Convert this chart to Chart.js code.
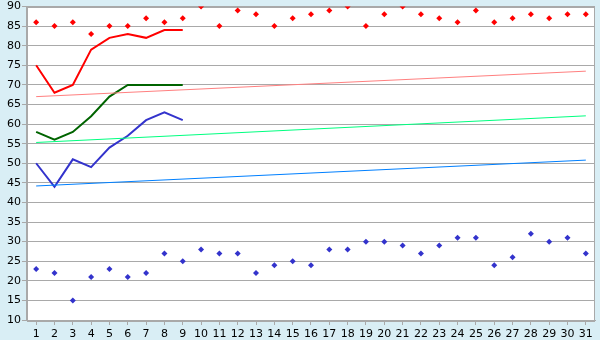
<!DOCTYPE html>
<html>
<head>
<meta charset="utf-8">
<script src="https://cdn.jsdelivr.net/npm/chart.js@4/dist/chart.umd.min.js"></script>
<style>
  html, body { margin: 0; padding: 0; background: #d9eef5; }
  canvas { display: block; }
</style>
</head>
<body>
<canvas id="grafico" width="600" height="340"></canvas>
<script>
// ==========================
// DADOS
// ==========================
const dias = Array.from({ length: 31 }, (_, i) => String(i + 1));

const pontosVermelhos = [86, 85, 86, 83, 85, 85, 87, 86, 87, 90, 85, 89, 88, 85, 87, 88,
                         89, 90, 85, 88, 90, 88, 87, 86, 89, 86, 87, 88, 87, 88, 88];
const pontosAzuis     = [23, 22, 15, 21, 23, 21, 22, 27, 25, 28, 27, 27, 22, 24, 25, 24,
                         28, 28, 30, 30, 29, 27, 29, 31, 31, 24, 26, 32, 30, 31, 27];

const linhaVermelha = [75, 68, 70, 79, 82, 83, 82, 84, 84];
const linhaVerde    = [58, 56, 58, 62, 67, 70, 70, 70, 70];
const linhaAzul     = [50, 44, 51, 49, 54, 57, 61, 63, 61];

// tendências: valor no dia 1 e no dia 31
const tendVermelha = [67.0, 73.5];
const tendVerde    = [55.3, 62.1];
const tendAzul     = [44.2, 50.8];

const yTicks = { min: 10, max: 90, step: 5 };

// ==========================
// AUXILIARES
// ==========================
function tendencia(vals) {
  return [{ x: dias[0], y: vals[0] }, { x: dias[dias.length - 1], y: vals[1] }];
}

function serieLinha(dados, cor) {
  return { type: 'line', data: dados, borderColor: cor, borderWidth: 2,
           pointRadius: 0, tension: 0, fill: false };
}

function serieTend(vals, cor) {
  return { type: 'line', data: tendencia(vals), borderColor: cor, borderWidth: 1,
           pointRadius: 0, tension: 0, fill: false };
}

function seriePontos(dados, cor) {
  return { type: 'line', data: dados, showLine: false, pointStyle: 'rectRot',
           pointRadius: 3, pointBorderWidth: 0, pointBackgroundColor: cor,
           borderColor: cor, backgroundColor: cor };
}

// fundo azul + área branca com moldura
const fundo = {
  id: 'fundo',
  beforeDraw(chart) {
    const { ctx, chartArea: a } = chart;
    ctx.save();
    ctx.fillStyle = '#d9eef5';
    ctx.fillRect(0, 0, chart.width, chart.height);
    ctx.fillStyle = '#ffffff';
    ctx.fillRect(a.left, a.top, a.right - a.left, a.bottom - a.top);
    ctx.restore();
  },
  beforeDatasetsDraw(chart) {
    const { ctx, chartArea: a } = chart;
    ctx.save();
    ctx.strokeStyle = '#a9a9a9';
    ctx.lineWidth = 1;
    ctx.strokeRect(Math.round(a.left) + 0.5, Math.round(a.top) + 0.5,
                   Math.round(a.right - a.left) - 1, Math.round(a.bottom - a.top));
    ctx.restore();
  }
};

const fonte = { family: 'DejaVu Sans', size: 11, lineHeight: 1 };

// ==========================
// GRÁFICO
// ==========================
new Chart(document.getElementById('grafico'), {
  type: 'line',
  data: {
    labels: dias,
    datasets: [
      serieTend(tendVermelha, '#ff8080'),
      serieTend(tendVerde, '#00ff80'),
      serieTend(tendAzul, '#0080ff'),
      serieLinha(linhaVermelha, '#ff0000'),
      serieLinha(linhaVerde, '#006400'),
      serieLinha(linhaAzul, '#3333cc'),
      seriePontos(pontosVermelhos, '#ff0000'),
      seriePontos(pontosAzuis, '#3333cc')
    ]
  },
  options: {
    responsive: false,
    animation: false,
    layout: { padding: { top: 0, right: 5, left: 6, bottom: 0 } },
    plugins: { legend: { display: false }, tooltip: { enabled: false } },
    scales: {
      x: {
        offset: true,
        afterFit(scale) { scale.height = 20; },
        border: { color: '#a9a9a9' },
        grid: { drawOnChartArea: false, drawTicks: true, tickLength: 5, color: '#a9a9a9' },
        ticks: { color: '#000', font: fonte, padding: 4, maxRotation: 0, autoSkip: false }
      },
      y: {
        min: yTicks.min, max: yTicks.max,
        border: { color: '#a9a9a9' },
        grid: { color: '#a9a9a9', drawTicks: true, tickLength: 5 },
        ticks: { stepSize: yTicks.step, color: '#000', padding: 1, font: fonte }
      }
    }
  },
  plugins: [fundo]
});
</script>
</body>
</html>
